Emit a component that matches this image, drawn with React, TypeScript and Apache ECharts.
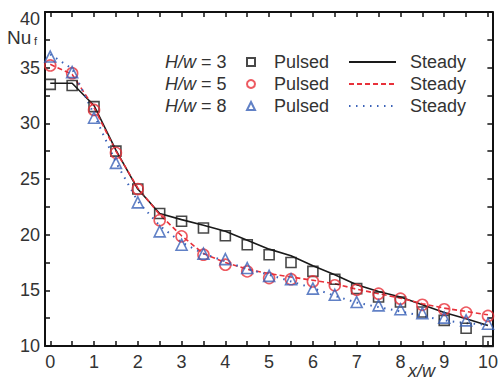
import React, { useEffect, useRef } from 'react';
import * as echarts from 'echarts';

const xValues = [0, 0.5, 1, 1.5, 2, 2.5, 3, 3.5, 4, 4.5, 5, 5.5, 6, 6.5, 7, 7.5, 8, 8.5, 9, 9.5, 10];

const pulsed3 = [33.5, 33.4, 31.5, 27.5, 24.1, 21.9, 21.2, 20.6, 19.9, 19.1, 18.2, 17.5, 16.7, 16.0, 15.15, 14.4, 13.95, 13.05, 12.3, 11.6, 10.4];
const pulsed5 = [35.2, 34.5, 31.2, 27.35, 24.1, 21.3, 19.85, 18.2, 17.3, 16.7, 16.1, 16.0, 15.8, 15.45, 15.05, 14.7, 14.25, 13.7, 13.3, 13.0, 12.7];
const pulsed8 = [36.0, 34.6, 30.5, 26.45, 22.9, 20.3, 19.1, 18.3, 17.8, 17.0, 16.3, 16.0, 15.15, 14.6, 13.95, 13.65, 13.3, 12.95, 12.55, 12.3, 12.0];

const steady3 = [33.6, 33.6, 31.6, 27.6, 24.1, 21.9, 21.35, 20.85, 20.3, 19.5, 18.7, 18.1, 17.2, 16.4, 15.5, 14.9, 14.4, 13.7, 13.0, 12.45, 11.85];
const steady5 = [35.3, 34.4, 31.4, 27.5, 24.2, 21.8, 19.9, 18.3, 17.5, 16.9, 16.5, 16.2, 15.9, 15.6, 15.1, 14.7, 14.3, 13.8, 13.4, 13.1, 12.8];
const steady8 = [36.2, 34.9, 30.8, 26.5, 23.0, 20.8, 19.3, 18.3, 17.6, 16.9, 16.4, 15.8, 15.2, 14.5, 13.9, 13.5, 13.1, 12.7, 12.3, 12.05, 11.9];

const xTickLabels = [0, 1, 2, 3, 4, 5, 6, 7, 8, 9, 10];
const xMinorTicks = [0, 0.5, 1, 1.5, 2, 2.5, 3, 3.5, 4, 4.5, 5, 5.5, 6, 6.5, 7, 7.5, 8, 8.5, 9, 9.5, 10];
const yTickLabels = [10, 15, 20, 25, 30, 35, 40];

const ratios = [3, 5, 8];
const colors = ['#1a1a1a', '#e8313a', '#3a62b8'];
const symbols = ['rect', 'circle', 'triangle'];
const pulsedSets = [pulsed3, pulsed5, pulsed8];
const steadySets = [steady3, steady5, steady8];

const FONT = "'Liberation Sans', Arial, Helvetica, sans-serif";
const TEXT = '#333';
const FS = 18;

export default function App() {
  const ref = useRef<HTMLDivElement>(null);
  useEffect(() => {
    const chart = echarts.init(ref.current!, null, { renderer: 'svg' });
    const axisBase = {
      type: 'value' as const,
      axisLine: { show: true, onZero: false, lineStyle: { color: '#111', width: 2 } },
      splitLine: { show: false },
    };
    const lineTypes: any[] = ['solid', [5, 3], [1.5, 5.5]];
    const series: any[] = [];
    ratios.forEach((r, k) => {
      series.push({
        name: `H/w = ${r} Steady`,
        type: 'line',
        data: xValues.map((x, i) => [x, steadySets[k][i]]),
        symbol: 'none',
        showSymbol: false,
        lineStyle: { color: colors[k], width: k === 2 ? 2 : 1.6, type: lineTypes[k] },
        itemStyle: { color: colors[k] },
        z: 2,
      });
    });
    ratios.forEach((r, k) => {
      series.push({
        name: `H/w = ${r} Pulsed`,
        type: 'scatter',
        data: xValues.map((x, i) => [x, pulsedSets[k][i]]),
        symbol: symbols[k],
        symbolSize: k === 0 ? 10 : 11,
        itemStyle: { color: 'rgba(255,255,255,0)', borderColor: colors[k], borderWidth: 1.6 },
        z: 3,
      });
    });
    chart.setOption({
      animation: false,
      backgroundColor: '#fff',
      grid: { left: 45, top: 12, width: 450, height: 334, containLabel: false },
      xAxis: [
        {
          ...axisBase,
          position: 'bottom',
          min: -0.12,
          max: 10.1,
          axisTick: { show: true, inside: true, length: 5, customValues: xMinorTicks, lineStyle: { color: '#111', width: 1.5 } },
          axisLabel: { show: true, customValues: xTickLabels, fontSize: FS, color: TEXT, margin: 7, fontFamily: FONT },
        },
        {
          ...axisBase,
          position: 'top',
          min: -0.12,
          max: 10.1,
          axisTick: { show: true, inside: true, length: 5, customValues: xMinorTicks, lineStyle: { color: '#111', width: 1.5 } },
          axisLabel: { show: false },
        },
      ],
      yAxis: [
        {
          ...axisBase,
          position: 'left',
          min: 10,
          max: 40,
          interval: 2.5,
          axisTick: { show: true, inside: true, length: 5, lineStyle: { color: '#111', width: 1.5 } },
          axisLabel: { show: true, customValues: yTickLabels, fontSize: FS, lineHeight: 14, color: TEXT, margin: 5, fontFamily: FONT, verticalAlignMaxLabel: 'top' },
        },
        {
          ...axisBase,
          position: 'right',
          min: 10,
          max: 40,
          interval: 2.5,
          axisTick: { show: true, inside: true, length: 5, lineStyle: { color: '#111', width: 1.5 } },
          axisLabel: { show: false },
        },
      ],
      legend: [
        {
          orient: 'vertical',
          left: 246,
          top: 52,
          padding: 0,
          itemWidth: 8,
          itemHeight: 8,
          itemGap: 2,
          selectedMode: false,
          data: ratios.map((r) => `H/w = ${r} Pulsed`),
          formatter: () => 'Pulsed',
          textStyle: { fontSize: FS, color: TEXT, fontFamily: FONT, lineHeight: 20, padding: [0, 0, 0, 14] },
        },
        {
          orient: 'vertical',
          left: 348,
          top: 52,
          padding: 0,
          itemWidth: 47,
          itemHeight: 8,
          itemGap: 2,
          selectedMode: false,
          itemStyle: { opacity: 0 },
          data: ratios.map((r) => `H/w = ${r} Steady`),
          formatter: () => 'Steady',
          textStyle: { fontSize: FS, color: TEXT, fontFamily: FONT, lineHeight: 20, padding: [0, 0, 0, 9] },
        },
      ],
      graphic: [
        ...ratios.map((r, k) => ({
          type: 'text',
          left: 165,
          top: 52 + k * 22,
          style: {
            text: `{i|H/w} = ${r}`,
            fontSize: FS,
            fill: TEXT,
            fontFamily: FONT,
            lineHeight: 20,
            rich: { i: { fontStyle: 'italic', fontSize: FS, fill: TEXT, fontFamily: FONT, lineHeight: 20 } },
          },
        })),
        {
          type: 'text',
          left: 7,
          top: 28,
          style: { text: 'Nu', fontSize: 19, lineHeight: 15, fill: TEXT, fontFamily: FONT },
        },
        {
          type: 'text',
          left: 34,
          top: 35,
          style: { text: 'f', fontSize: 11, lineHeight: 10, fill: TEXT, fontFamily: FONT },
        },
        {
          type: 'text',
          left: 408,
          top: 362,
          style: { text: 'x/w', fontSize: FS, fontStyle: 'italic', fill: TEXT, fontFamily: FONT },
        },
      ],
      series,
    });
    return () => chart.dispose();
  }, []);
  return <div ref={ref} style={{ position: 'fixed', left: 0, top: 0, width: 501, height: 383 }} />;
}
